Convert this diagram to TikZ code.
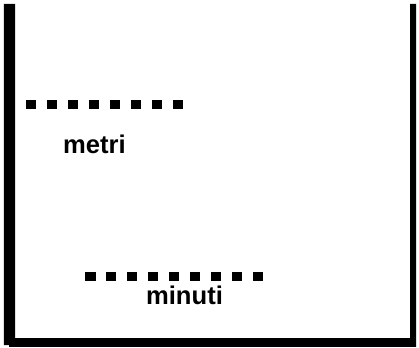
\documentclass[tikz,border=0pt]{standalone}
\usepackage{fontspec}
\setmainfont{Liberation Sans}
\usepackage{tikz}

\tikzset{
  ticks/.style={line width=4.5pt, dash pattern=on 5.25pt off 5.25pt},
  lbl/.style={anchor=base, inner sep=0pt, font=\bfseries\fontsize{12.8}{15}\selectfont}
}

\begin{document}
\begin{tikzpicture}[x=0.5pt, y=-0.5pt]

\useasboundingbox (0,0) rectangle (419,348);

\def\leftbar{(4,4) rectangle (15,345)}
\def\bottombar{(9,338) rectangle (416,347)}
\def\rightbar{(410,4) rectangle (416,345)}

% dashed marks
\draw[ticks] (5,104) -- (185,104);
\draw[ticks] (85,276.5) -- (265,276.5);

% frame
\fill[black] \leftbar \bottombar \rightbar;

% labels
\node[lbl] (metri) at (94.5,153.5) {metri};
\node[lbl] (minuti) at (184.5,305) {minuti};

\end{tikzpicture}
\end{document}
